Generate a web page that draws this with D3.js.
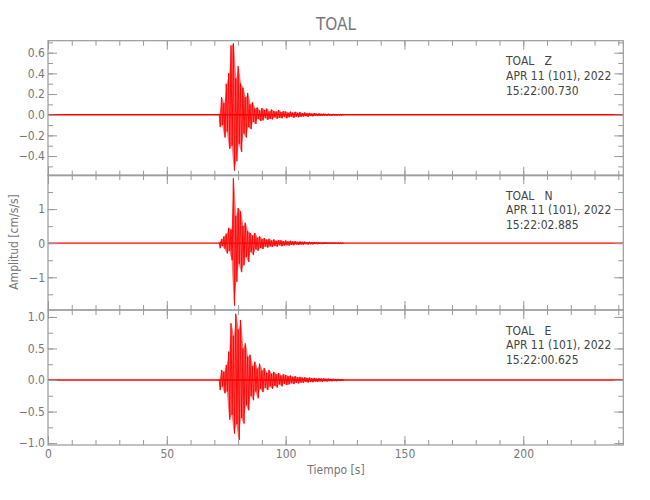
<!DOCTYPE html>
<html>
<head>
<meta charset="utf-8">
<script src="https://cdn.jsdelivr.net/npm/d3@7"></script>
<style>
  body { margin: 0; background: #fff; }
  text { font-family: "DejaVu Sans", sans-serif; font-stretch: condensed; }
</style>
</head>
<body>
<svg id="chart" width="650" height="500"></svg>
<script>
// ---- data ----
const stationName = 'TOAL';
const components = ['Z', 'N', 'E'];
const startTimes = ['15:22:00.730', '15:22:02.885', '15:22:00.625'];
const dateLabel = 'APR 11 (101), 2022';
const xMax = 242.1;                       // seconds shown
const xMajorTicks = [0, 50, 100, 150, 200];
const yDomains = [[-0.59, 0.716], [-1.96, 2.0], [-1.03, 1.11]];
const yMajorTicks = [[-0.4, -0.2, 0.0, 0.2, 0.4, 0.6], [-1, 0, 1], [-1.0, -0.5, 0.0, 0.5, 1.0]];
const yMinorSteps = [0.1, 0.5, 0.25];
const yFormats = ['.1f', 'd', '.1f'];
const noiseLevels = [0.007, 0.02, 0.012];   // background trace half-width

// peak / trough per half second, starting at 72 s
const tStart = 72, tStep = 0.5;
const zPeaks = [
  0.01, -0.12, 0.17, -0.10, 0.11, -0.22, 0.30, -0.16, 0.40, -0.33,
  0.67, -0.30, 0.69, -0.54, 0.35, -0.45, 0.47, -0.28, 0.30, -0.36,
  0.26, -0.18, 0.17, -0.22, 0.21, -0.12, 0.10, -0.14, 0.12, -0.07,
  0.06, -0.09, 0.07, -0.04, 0.04, -0.06, 0.065, -0.055, 0.045, -0.03,
  0.06, -0.05, 0.03, -0.04, 0.05, -0.045, 0.035, -0.025, 0.03, -0.04,
  0.045, -0.03, 0.025, -0.035, 0.035, -0.02, 0.03, -0.035, 0.02, -0.025,
  0.03, -0.02, 0.02, -0.03, 0.028, -0.018, 0.018, -0.025, 0.025, -0.02,
  0.015, -0.018, 0.022, -0.014, 0.014, -0.02, 0.018, -0.012, 0.012, -0.016,
  0.016, -0.01, 0.01, -0.013, 0.013, -0.009, 0.009, -0.012, 0.011, -0.008,
  0.008, -0.01, 0.01, -0.007, 0.007, -0.009, 0.008, -0.006, 0.006, -0.008,
  0.007, -0.006, 0.005, -0.007, 0.006, -0.005
];
const nPeaks = [
  0.03, -0.15, 0.12, -0.08, 0.20, -0.16, 0.28, -0.30, 0.45, -0.22,
  0.40, -0.50, 1.90, -1.83, 0.80, -1.13, 1.03, -0.60, 0.93, -0.85,
  0.50, -0.65, 0.60, -0.40, 0.35, -0.55, 0.30, -0.25, 0.22, -0.35,
  0.30, -0.18, 0.16, -0.22, 0.20, -0.14, 0.12, -0.17, 0.15, -0.10,
  0.10, -0.13, 0.13, -0.09, 0.08, -0.11, 0.11, -0.08, 0.07, -0.10,
  0.09, -0.06, 0.08, -0.09, 0.06, -0.07, 0.08, -0.06, 0.05, -0.07,
  0.07, -0.05, 0.05, -0.06, 0.06, -0.04, 0.04, -0.05, 0.05, -0.04,
  0.04, -0.045, 0.045, -0.03, 0.03, -0.04, 0.04, -0.03, 0.03, -0.035,
  0.035, -0.025, 0.025, -0.03, 0.03, -0.022, 0.022, -0.028, 0.026, -0.02,
  0.02, -0.024, 0.023, -0.018, 0.018, -0.021, 0.02, -0.017, 0.017, -0.019,
  0.018, -0.015, 0.015, -0.017, 0.016, -0.015
];
const ePeaks = [
  0.01, -0.16, 0.16, -0.10, 0.13, -0.21, 0.24, -0.18, 0.45, -0.63,
  0.90, -0.55, 0.70, -0.85, 1.05, -0.70, 0.80, -0.95, 0.95, -0.60,
  0.50, -0.69, 0.58, -0.40, 0.37, -0.48, 0.40, -0.25, 0.22, -0.32,
  0.29, -0.18, 0.18, -0.29, 0.26, -0.14, 0.15, -0.19, 0.19, -0.12,
  0.11, -0.16, 0.16, -0.10, 0.10, -0.14, 0.13, -0.09, 0.09, -0.12,
  0.11, -0.07, 0.07, -0.10, 0.09, -0.06, 0.08, -0.08, 0.06, -0.07,
  0.07, -0.05, 0.05, -0.065, 0.06, -0.045, 0.045, -0.055, 0.05, -0.04,
  0.038, -0.045, 0.045, -0.032, 0.033, -0.04, 0.04, -0.03, 0.03, -0.035,
  0.034, -0.026, 0.026, -0.03, 0.03, -0.022, 0.024, -0.027, 0.027, -0.02,
  0.021, -0.024, 0.023, -0.018, 0.018, -0.021, 0.02, -0.016, 0.016, -0.019,
  0.018, -0.015, 0.015, -0.017, 0.016, -0.014
];
const allPeaks = [zPeaks, nPeaks, ePeaks];

// ---- layout ----
const svg = d3.select('#chart');
const plotLeft = 48, plotRight = 623.3;
const panelTops = [40.7, 175, 310];
const panelHeight = 135;
const frameColor = '#9a9a9a';
const labelColor = '#777';
const traceColor = '#ff0000';

const x = d3.scaleLinear().domain([0, xMax]).range([plotLeft, plotRight]);

//Build every panel
components.forEach((comp, i) => {
  const top = panelTops[i];
  const bottom = top + panelHeight;
  const y = d3.scaleLinear().domain(yDomains[i]).range([bottom, top]);
  const g = svg.append('g').attr('class', 'panel-' + comp);

  g.append('clipPath').attr('id', 'clip' + i)
    .append('rect')
      .attr('x', plotLeft).attr('y', top)
      .attr('width', plotRight - plotLeft).attr('height', panelHeight);

  const plot = g.append('g').attr('clip-path', `url(#clip${i})`);

  // background noise band across the whole record
  plot.append('path')
    .datum([0, xMax])
    .attr('fill', traceColor)
    .attr('d', d3.area().x(d => x(d)).y0(y(-noiseLevels[i])).y1(y(noiseLevels[i])));

  // event: envelope fill (peak above, trough below) then the zig-zag trace
  const pts = allPeaks[i].map((v, k) => [tStart + k * tStep, v]);
  const pairs = d3.pairs(pts).filter((p, k) => k % 2 === 0);
  plot.append('path')
    .datum(pairs)
    .attr('fill', traceColor)
    .attr('fill-opacity', 0.55)
    .attr('d', d3.area()
      .x(d => x(d[0][0] + tStep / 2))
      .y0(d => y(d[1][1]))
      .y1(d => y(d[0][1])));

  plot.append('path')
    .datum(pts)
    .attr('fill', 'none')
    .attr('stroke', traceColor)
    .attr('stroke-width', 0.9)
    .attr('d', d3.line().x(d => x(d[0])).y(d => y(d[1])));

  // minor tick values
  const yMinor = d3.range(Math.ceil(yDomains[i][0] / yMinorSteps[i]) * yMinorSteps[i], yDomains[i][1], yMinorSteps[i]);
  const xMinor = d3.range(0, xMax, 10);

  const styleAxis = sel => {
    sel.select('.domain').remove();
    sel.selectAll('line').attr('stroke', frameColor);
    sel.selectAll('text').attr('fill', labelColor).style('font-size', '12px');
  };

  // left, labelled
  g.append('g').attr('transform', `translate(${plotLeft},0)`)
    .call(d3.axisLeft(y).tickValues(yMajorTicks[i]).tickSize(-9).tickPadding(3).tickFormat(d3.format(yFormats[i])))
    .call(styleAxis);
  g.append('g').attr('transform', `translate(${plotLeft},0)`)
    .call(d3.axisLeft(y).tickValues(yMinor).tickSize(-5).tickFormat(''))
    .call(styleAxis);
  // right
  g.append('g').attr('transform', `translate(${plotRight},0)`)
    .call(d3.axisRight(y).tickValues(yMajorTicks[i]).tickSize(-9).tickFormat(''))
    .call(styleAxis);
  g.append('g').attr('transform', `translate(${plotRight},0)`)
    .call(d3.axisRight(y).tickValues(yMinor).tickSize(-5).tickFormat(''))
    .call(styleAxis);
  // top
  g.append('g').attr('transform', `translate(0,${top})`)
    .call(d3.axisTop(x).tickValues(xMajorTicks).tickSize(-9).tickFormat(''))
    .call(styleAxis);
  g.append('g').attr('transform', `translate(0,${top})`)
    .call(d3.axisTop(x).tickValues(xMinor).tickSize(-5).tickFormat(''))
    .call(styleAxis);
  // bottom, labelled on last panel only
  g.append('g').attr('transform', `translate(0,${bottom})`)
    .call(d3.axisBottom(x).tickValues(xMajorTicks).tickSize(-9).tickPadding(4)
      .tickFormat(i === components.length - 1 ? d3.format('d') : ''))
    .call(styleAxis);
  g.append('g').attr('transform', `translate(0,${bottom})`)
    .call(d3.axisBottom(x).tickValues(xMinor).tickSize(-5).tickFormat(''))
    .call(styleAxis);

  // frame
  g.append('rect')
    .attr('x', plotLeft).attr('y', top)
    .attr('width', plotRight - plotLeft).attr('height', panelHeight)
    .attr('fill', 'none').attr('stroke', frameColor).attr('stroke-width', 1.2);

  // station info
  const info = g.append('text')
    .attr('x', 506).attr('y', top + 24.5)
    .attr('fill', '#444').style('font-size', '12px')
    .style('white-space', 'pre');
  [stationName + '   ' + comp, dateLabel, startTimes[i]].forEach((s, k) => {
    info.append('tspan').attr('x', 506).attr('dy', k === 0 ? 0 : 14.7).text(s);
  });
});

// title and axis labels
svg.append('text')
  .attr('x', 336).attr('y', 30)
  .attr('text-anchor', 'middle')
  .attr('fill', labelColor).style('font-size', '17px')
  .text(stationName);

svg.append('text')
  .attr('x', 336).attr('y', 474)
  .attr('text-anchor', 'middle')
  .attr('fill', labelColor).style('font-size', '12px')
  .text('Tiempo [s]');

svg.append('text')
  .attr('transform', 'translate(18,242) rotate(-90)')
  .attr('text-anchor', 'middle')
  .attr('fill', labelColor).style('font-size', '12px')
  .text('Amplitud [cm/s/s]');
</script>
</body>
</html>
